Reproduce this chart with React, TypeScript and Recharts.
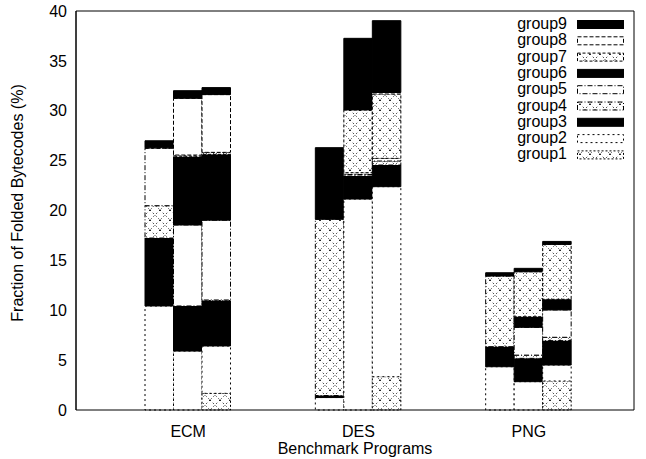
import React from 'react'
import { BarChart, Bar, XAxis, YAxis, Legend } from 'recharts'

const BENCHMARKS = ['ECM', 'DES', 'PNG']
const GROUPS = ['group1', 'group2', 'group3', 'group4', 'group5', 'group6', 'group7', 'group8', 'group9']
const Y_TICKS = [0, 5, 10, 15, 20, 25, 30, 35, 40]

// three runs per benchmark, each run split into group1..group9 (%)
const ECM_RUNS = [
  [0, 10.43, 6.81, 3.24, 5.76, 0, 0, 0.05, 0.7],
  [0, 5.91, 4.52, 0, 8.12, 6.84, 0.17, 5.69, 0.76],
  [1.67, 4.75, 4.51, 0.1, 8.0, 6.6, 0.2, 5.79, 0.7],
]
const DES_RUNS = [
  [0, 1.25, 0.2, 17.67, 0, 7.18, 0, 0, 0],
  [0, 21.15, 2.31, 0.15, 0.18, 0, 6.29, 0, 7.18],
  [3.34, 19.05, 2.17, 0.4, 0.27, 0, 6.45, 0.15, 7.2],
]
const PNG_RUNS = [
  [0, 4.34, 2.01, 7.08, 0, 0, 0, 0, 0.33],
  [0, 2.84, 2.34, 0.32, 2.79, 1.06, 4.51, 0, 0.34],
  [2.91, 1.6, 2.44, 0.34, 2.74, 1.07, 5.5, 0, 0.3],
]

const RUN_KEYS = ['a', 'b', 'c']

const data = [ECM_RUNS, DES_RUNS, PNG_RUNS].map((runs, i) => {
  const row: Record<string, string | number> = { name: BENCHMARKS[i] }
  runs.forEach((vals, r) => vals.forEach((v, g) => { row[`${RUN_KEYS[r]}${g + 1}`] = v }))
  return row
})

// gnuplot-ish fill / border styles per group
const STYLES: { fill: string; dash?: string }[] = [
  { fill: 'url(#xhatch)', dash: '2 2' },
  { fill: '#fff', dash: '2 3' },
  { fill: '#000' },
  { fill: 'url(#xhatch)', dash: '5 2 1 2' },
  { fill: '#fff', dash: '5 2 1 2' },
  { fill: '#000' },
  { fill: 'url(#xhatch)', dash: '3 2' },
  { fill: '#fff', dash: '4 2' },
  { fill: '#000' },
]

const FONT = '"Liberation Sans", Arial, Helvetica, sans-serif'
const PAD = { left: 27, right: 20 }

const LegendBox = () => (
  <svg width={126} height={150} style={{ fontFamily: FONT }}>
    {GROUPS.slice().reverse().map((g, i) => {
      const st = STYLES[GROUPS.length - 1 - i]
      const cy = 10 + i * 16.3
      return (
        <g key={g}>
          <text x={57} y={cy + 5} textAnchor="end" fontSize={16} fill="#000">{g}</text>
          <rect x={67.5} y={cy - 3.5} width={46} height={8} fill={st.fill} stroke="#000"
            strokeWidth={1} strokeDasharray={st.dash} />
        </g>
      )
    })}
  </svg>
)

export default function App() {
  return (
    <div style={{ position: 'absolute', left: 0, top: 0, fontFamily: FONT, background: '#fff' }}>
      <BarChart width={646} height={459} data={data} barGap={0} barSize={28.5}
        margin={{ top: 11, right: 12, bottom: 0, left: 0 }}>
        <defs>
          <pattern id="xhatch" patternUnits="userSpaceOnUse" width={10} height={10}>
            <rect width={10} height={10} fill="#fff" />
            <path d="M0,0 L10,10 M10,0 L0,10" stroke="#000" strokeWidth={1} strokeDasharray="1.2 2.8" />
          </pattern>
        </defs>
        <XAxis dataKey="name" padding={PAD} height={49} tickLine={false} tickSize={0} tickMargin={16}
          axisLine={{ stroke: '#000' }} tick={{ fontSize: 16, fill: '#000', fontFamily: FONT }}
          label={() => (
            <text x={355} y={454} textAnchor="middle" fontSize={16} fill="#000" fontFamily={FONT}>
              Benchmark Programs
            </text>
          )} />
        <XAxis xAxisId="top" orientation="top" mirror dataKey="name" padding={PAD} tick={false}
          tickSize={6} axisLine={{ stroke: '#000' }} tickLine={{ stroke: '#000' }} />
        <YAxis domain={[0, 40]} ticks={Y_TICKS} width={76} tickLine={false} tickSize={0} tickMargin={9}
          axisLine={{ stroke: '#000' }} tick={{ fontSize: 16, fill: '#000', fontFamily: FONT }}
          label={() => (
            <text x={17} y={203} transform="rotate(-90 17 203)" textAnchor="middle"
              dominantBaseline="central" fontSize={16} fill="#000" fontFamily={FONT}>
              Fraction of Folded Bytecodes (%)
            </text>
          )} />
        <YAxis yAxisId="lm" orientation="left" mirror domain={[0, 40]} ticks={Y_TICKS} tick={false}
          tickSize={6} axisLine={{ stroke: '#000' }} tickLine={{ stroke: '#000' }} />
        <YAxis yAxisId="r" orientation="right" mirror domain={[0, 40]} ticks={Y_TICKS} tick={false}
          tickSize={6} axisLine={{ stroke: '#000' }} tickLine={{ stroke: '#000' }} />
        <Legend layout="horizontal" verticalAlign="middle" align="center" content={() => <LegendBox />}
          wrapperStyle={{ top: 14, left: 510, width: 126 }} />
        {RUN_KEYS.flatMap((r) =>
          GROUPS.map((g, gi) => (
            <Bar key={`${r}${gi}`} dataKey={`${r}${gi + 1}`} name={g} stackId={r}
              fill={STYLES[gi].fill} stroke="#000" strokeWidth={1}
              strokeDasharray={STYLES[gi].dash} isAnimationActive={false} />
          ))
        )}
      </BarChart>
    </div>
  )
}
